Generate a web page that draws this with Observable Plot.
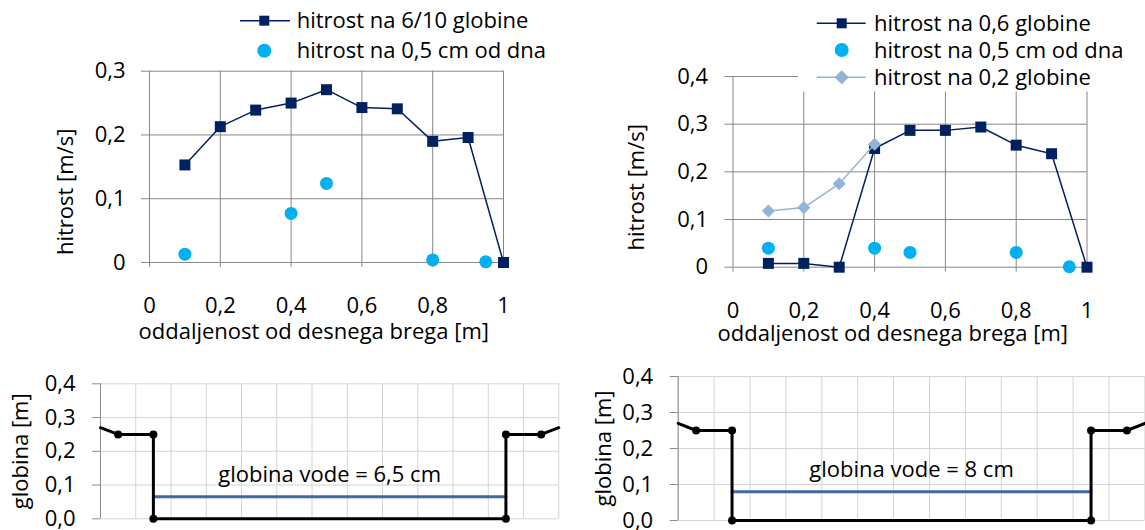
<!DOCTYPE html>
<html><head><meta charset="utf-8">
<script src="https://cdn.jsdelivr.net/npm/d3@7"></script>
<script src="https://cdn.jsdelivr.net/npm/@observablehq/plot@0.6"></script>
<style>
html,body{margin:0;padding:0;background:#fff;}
#wrap{position:relative;width:1145px;height:530px;overflow:hidden;background:#fff;}
#wrap svg{position:absolute;}
</style></head><body><div id="wrap"></div>
<script>
// ---- data ----
const distance = [0.1, 0.2, 0.3, 0.4, 0.5, 0.6, 0.7, 0.8, 0.9, 1.0];
const leftV06 = [0.153, 0.213, 0.239, 0.250, 0.271, 0.243, 0.241, 0.190, 0.196, 0.0];
const bedDistance = [0.1, 0.4, 0.5, 0.8, 0.95];
const leftVBed = [0.013, 0.077, 0.124, 0.004, 0.001];
const rightV06 = [0.008, 0.008, 0.0, 0.249, 0.287, 0.287, 0.294, 0.256, 0.238, 0.0];
const rightVBed = [0.040, 0.040, 0.031, 0.031, 0.001];
const surfDistance = [0.1, 0.2, 0.3, 0.4];
const rightV02 = [0.118, 0.125, 0.175, 0.258];
const sectionX = [0, 0.05, 0.15, 0.15, 1.15, 1.15, 1.25, 1.3];
const sectionY = [0.27, 0.25, 0.25, 0, 0, 0.25, 0.25, 0.27];
const channelX = [0.15, 1.15];
const waterLeft = 0.065;
const waterRight = 0.08;
const topXTicks = [0, 0.2, 0.4, 0.6, 0.8, 1];
const leftYTicks = [0, 0.1, 0.2, 0.3];
const rightYTicks = [0, 0.1, 0.2, 0.3, 0.4];
const bottomYTicks = [0, 0.1, 0.2, 0.3, 0.4];
const bottomXGrid = [0, 0.1, 0.2, 0.3, 0.4, 0.5, 0.6, 0.7, 0.8, 0.9, 1.0, 1.1, 1.2, 1.3];
const xTitle = "oddaljenost od desnega brega [m]";
const yTitleTop = "hitrost [m/s]";
const yTitleBottom = "globina [m]";
const waterLabelLeft = "globina vode = 6,5 cm";
const waterLabelRight = "globina vode = 8 cm";
const legendLeft = ["hitrost na 6/10 globine", "hitrost na 0,5 cm od dna"];
const legendRight = ["hitrost na 0,6 globine", "hitrost na 0,5 cm od dna", "hitrost na 0,2 globine"];

// ---- styles ----
const FONT = "'Open Sans', Lato, sans-serif";
const NAVY = "#002060", CYAN = "#00b0f0", LIGHT = "#95b3d7", WATER = "#41699c";
const GRID = "#868686", GRID_L = "#d4d4d4", AXIS_L = "#8c8c8c";
const fmtTop = d => String(d).replace(".", ",");
const fmtBottom = d => d.toFixed(1).replace(".", ",");
const style = {fontFamily: FONT, fontSize: "22px", color: "black", background: "none", overflow: "visible"};
const wrap = document.getElementById("wrap");
function place(svg, left, top) { svg.style.left = left + "px"; svg.style.top = top + "px"; wrap.appendChild(svg); }

// ---- top-left ----
place(Plot.plot({
  width: 570, height: 360,
  marginLeft: 149, marginRight: 67, marginTop: 70.7, marginBottom: 98,
  x: {domain: [0, 1]}, y: {domain: [0, 0.3]},
  style,
  marks: [
    Plot.gridX(topXTicks, {stroke: GRID, strokeOpacity: 1}),
    Plot.gridY(leftYTicks, {stroke: GRID, strokeOpacity: 1}),
    Plot.axisX(topXTicks, {tickSize: 5, tickPadding: 30, stroke: GRID, tickFormat: fmtTop, label: null}),
    Plot.axisY(leftYTicks, {tickSize: 8, tickPadding: 16, stroke: GRID, tickFormat: fmtTop, label: null}),
    Plot.text([xTitle], {frameAnchor: "bottom-left", textAnchor: "start", dx: -11, dy: 76.3}),
    Plot.text([yTitleTop], {frameAnchor: "left", textAnchor: "middle", rotate: -90, dx: -84, dy: 25}),
    Plot.line(leftV06, {x: distance, y: leftV06, stroke: NAVY, strokeWidth: 1.5}),
    Plot.dot(leftV06, {x: distance, y: leftV06, symbol: "square", r: 6.2, fill: NAVY}),
    Plot.dot(leftVBed, {x: bedDistance, y: leftVBed, r: 6.5, fill: CYAN})
  ]
}), 0, 0);

// ---- top-right ----
place(Plot.plot({
  width: 575, height: 360,
  marginLeft: 162.5, marginRight: 58.5, marginTop: 76, marginBottom: 93.3,
  x: {domain: [0, 1]}, y: {domain: [0, 0.4]},
  style,
  marks: [
    Plot.gridX(topXTicks, {stroke: GRID, strokeOpacity: 1}),
    Plot.gridY(rightYTicks, {stroke: GRID, strokeOpacity: 1}),
    Plot.axisX(topXTicks, {tickSize: 5, tickPadding: 30.5, stroke: GRID, tickFormat: fmtTop, label: null}),
    Plot.axisY(rightYTicks, {tickSize: 8, tickPadding: 17, stroke: GRID, tickFormat: fmtTop, label: null}),
    Plot.text([xTitle], {frameAnchor: "bottom-left", textAnchor: "start", dx: -15.5, dy: 73.3}),
    Plot.text([yTitleTop], {frameAnchor: "left", textAnchor: "middle", rotate: -90, dx: -96.5, dy: 15.4}),
    Plot.line(rightV06, {x: distance, y: rightV06, stroke: NAVY, strokeWidth: 1.5}),
    Plot.dot(rightV06, {x: distance, y: rightV06, symbol: "square", r: 6.2, fill: NAVY}),
    Plot.dot(rightVBed, {x: bedDistance, y: rightVBed, r: 6.5, fill: CYAN}),
    Plot.line(rightV02, {x: surfDistance, y: rightV02, stroke: LIGHT, strokeWidth: 1.5}),
    Plot.dot(rightV02, {x: surfDistance, y: rightV02, symbol: "diamond2", r: 5.9, fill: LIGHT})
  ]
}), 570, 0);

// ---- bottom panels ----
function section(waterDepth, waterLabel, w, ml, mr, mt, mb, yTitleDx) {
  const channelY = channelX.map(() => waterDepth);
  return Plot.plot({
    width: w, height: 170,
    marginLeft: ml, marginRight: mr, marginTop: mt, marginBottom: mb,
    x: {domain: [0, 1.3], axis: null}, y: {domain: [0, 0.4]},
    style,
    marks: [
      Plot.gridX(bottomXGrid, {stroke: GRID_L, strokeOpacity: 1}),
      Plot.gridY(bottomYTicks, {stroke: GRID_L, strokeOpacity: 1}),
      Plot.ruleX([0], {stroke: AXIS_L}),
      Plot.axisY(bottomYTicks, {tickSize: 8, tickPadding: 17, stroke: AXIS_L, tickFormat: fmtBottom, label: null}),
      Plot.text([yTitleBottom], {frameAnchor: "left", textAnchor: "middle", rotate: -90, dx: yTitleDx}),
      Plot.line(channelY, {x: channelX, y: channelY, stroke: WATER, strokeWidth: 3}),
      Plot.text([waterLabel], {x: [d3.mean(channelX)], y: [waterDepth], dy: -21.5}),
      Plot.line(sectionY, {x: sectionX, y: sectionY, stroke: "black", strokeWidth: 3}),
      Plot.dot(sectionY.slice(1, -1), {x: sectionX.slice(1, -1), y: sectionY.slice(1, -1), r: 4, fill: "black"})
    ]
  });
}
place(section(waterLeft, waterLabelLeft, 570, 100, 11.7, 23.3, 11.7, -80), 0, 360);
place(section(waterRight, waterLabelRight, 575, 107.7, 0.6, 16, 10, -74.4), 570, 360);

// ---- legends ----
const leg = d3.select(wrap).append("svg").attr("width", 1145).attr("height", 530)
  .style("left", "0px").style("top", "0px")
  .style("font-family", FONT).style("font-size", "22px");
function sq(g, cx, cy, s, fill) { g.append("rect").attr("x", cx - s / 2).attr("y", cy - s / 2).attr("width", s).attr("height", s).attr("fill", fill); }
function txt(g, x, y, t) { g.append("text").attr("x", x).attr("y", y).attr("dy", "0.35em").attr("fill", "black").text(t); }
// left legend
leg.append("line").attr("x1", 240).attr("x2", 290).attr("y1", 20.7).attr("y2", 20.7).attr("stroke", NAVY).attr("stroke-width", 1.5);
sq(leg, 264.3, 20.7, 10, NAVY);
txt(leg, 296.7, 20.7, legendLeft[0]);
leg.append("circle").attr("cx", 264.3).attr("cy", 50.7).attr("r", 7).attr("fill", CYAN);
txt(leg, 296.7, 50.7, legendLeft[1]);
// right legend
leg.append("rect").attr("x", 798).attr("y", 0).attr("width", 300).attr("height", 91.5).attr("fill", "white");
leg.append("line").attr("x1", 816.7).attr("x2", 865.7).attr("y1", 23.3).attr("y2", 23.3).attr("stroke", NAVY).attr("stroke-width", 1.5);
sq(leg, 841.7, 23.3, 10, NAVY);
txt(leg, 874, 23.3, legendRight[0]);
leg.append("circle").attr("cx", 841.7).attr("cy", 50).attr("r", 7).attr("fill", CYAN);
txt(leg, 874, 50, legendRight[1]);
leg.append("line").attr("x1", 816.7).attr("x2", 865.7).attr("y1", 77.3).attr("y2", 77.3).attr("stroke", LIGHT).attr("stroke-width", 1.5);
leg.append("path").attr("d", d3.symbol(d3.symbolDiamond2, 130)()).attr("transform", "translate(841.7,77.3)").attr("fill", LIGHT);
txt(leg, 874, 77.3, legendRight[2]);
</script></body></html>
